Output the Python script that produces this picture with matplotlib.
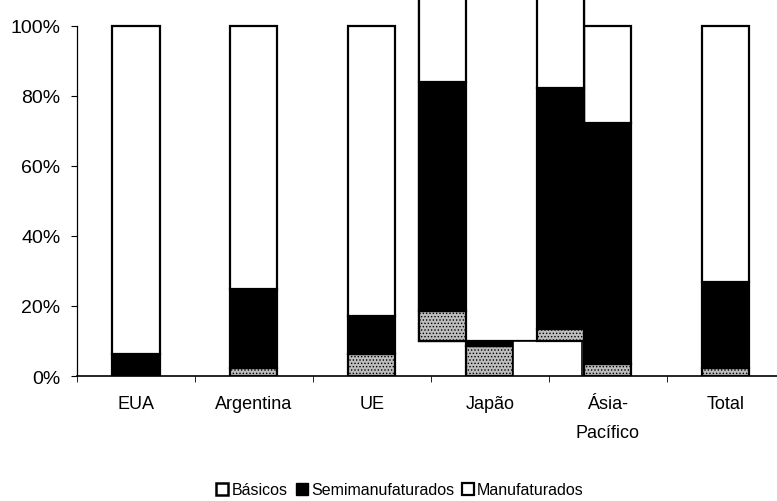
import numpy as np
import matplotlib
matplotlib.use('Agg')
from matplotlib import pyplot as plt
from matplotlib.patches import Patch

plt.rcParams['font.family'] = ['Liberation Sans', 'DejaVu Sans']
plt.rcParams['hatch.linewidth'] = 0.6

categorias = ['EUA', 'Argentina', 'UE', 'Japão', 'Ásia-\nPacífico', 'Total']
basicos = [0.0, 2.3, 6.4, 8.5, 3.4, 2.2]
semimanuf = [6.3, 22.6, 10.8, 65.5, 68.8, 24.7]
manuf = [100 - b - s for b, s in zip(basicos, semimanuf)]
yticks = [0, 20, 40, 60, 80, 100]
ylabels = ['0%', '20%', '40%', '60%', '80%', '100%']

# pedaço colado/deslocado no original escaneado (Japão e Ásia-Pacífico)
copia_idx = [3, 4]
copia_dx = -0.4
copia_dy = 10.0

fig = plt.figure(figsize=(7.77, 5.02), dpi=100)
ax = fig.add_axes([0.099, 0.249, 0.911, 0.751])

x = np.arange(len(categorias))
w = 0.4
bas = np.array(basicos)
sem = np.array(semimanuf)
man = np.array(manuf)

kw = dict(width=w, edgecolor='black', linewidth=1.6, zorder=2)
ax.bar(x, bas, color='#bdbdbd', hatch='.....', **kw)
ax.bar(x, sem, bottom=bas, color='black', **kw)
ax.bar(x, man, bottom=bas + sem, color='white', **kw)

# sobreposição do recorte
xl = x[copia_idx[0]] + copia_dx - w / 2
xr = x[copia_idx[-1]] + copia_dx + w / 2
ax.bar((xl + xr) / 2, 120, width=xr - xl, bottom=copia_dy, color='white',
       edgecolor='black', linewidth=1.6, zorder=3)
ax.bar((x[3] + w / 2 + xr - 0.02) / 2, copia_dy, width=xr - 0.02 - x[3] - w / 2,
       color='white', edgecolor='black', linewidth=1.2, zorder=3)
xc = x[copia_idx] + copia_dx
kw2 = dict(width=w, edgecolor='black', linewidth=1.6, zorder=4)
ax.bar(xc, bas[copia_idx], bottom=copia_dy, color='#bdbdbd', hatch='.....', **kw2)
ax.bar(xc, sem[copia_idx], bottom=copia_dy + bas[copia_idx], color='black', **kw2)
ax.bar(xc, 120, bottom=copia_dy + bas[copia_idx] + sem[copia_idx], color='white', **kw2)

ax.set_xlim(-0.5, 5.5)
ax.set_ylim(0, 107.7)
ax.set_yticks(yticks)
ax.set_yticklabels(ylabels, fontsize=14)
ax.set_xticks(x)
ax.set_xticklabels(categorias, fontsize=13, linespacing=1.9)
ax.set_xticks(np.arange(-0.5, 6.0, 1.0), minor=True)
ax.tick_params(axis='x', which='major', length=0, pad=14)
ax.tick_params(axis='x', which='minor', length=4, direction='out')
ax.tick_params(axis='y', length=4, direction='out', pad=8)
for s in ['top', 'right']:
    ax.spines[s].set_visible(False)
ax.spines['left'].set_bounds(0, 100)
ax.spines['left'].set_linewidth(0.9)
ax.spines['bottom'].set_linewidth(1.2)

handles = [Patch(facecolor='white', edgecolor='black', linewidth=1.8),
           Patch(facecolor='black', edgecolor='black'),
           Patch(facecolor='white', edgecolor='black', linewidth=1.6)]
fig.legend(handles, ['Básicos', 'Semimanufaturados', 'Manufaturados'],
           loc='center', bbox_to_anchor=(0.515, 0.022), ncol=3, frameon=False,
           fontsize=11.5, handlelength=0.75, handleheight=0.75,
           handletextpad=0.2, columnspacing=0.5)

fig.savefig('out.png', dpi=100)
